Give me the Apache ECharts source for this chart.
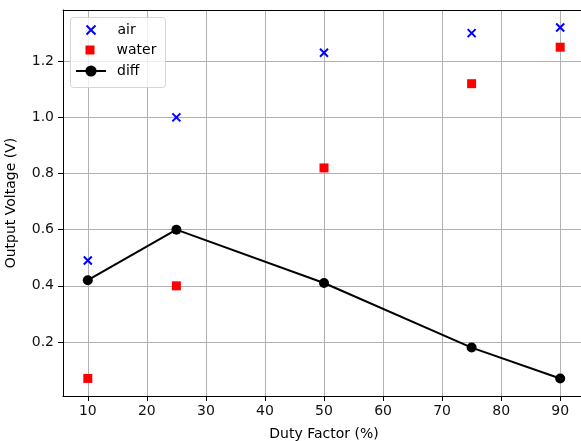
<!DOCTYPE html>
<html>
<head>
<meta charset="utf-8">
<script src="https://cdn.jsdelivr.net/npm/echarts@6/dist/echarts.min.js"></script>
<style>
  html, body { margin: 0; padding: 0; background: #fff; }
  #chart { width: 581px; height: 441px; }
</style>
</head>
<body>
<div id="chart"></div>
<script>
// values
var dutyFactor = [10, 25, 50, 75, 90];
var airVoltage = [0.49, 1.00, 1.23, 1.30, 1.32];
var waterVoltage = [0.07, 0.40, 0.82, 1.12, 1.25];
var diffVoltage = [0.42, 0.60, 0.41, 0.18, 0.07];
var xTicks = [10, 20, 30, 40, 50, 60, 70, 80, 90];
var yTicks = [0.2, 0.4, 0.6, 0.8, 1.0, 1.2];

function pairs(xs, ys) {
    return xs.map(function (x, i) { return [x, ys[i]]; });
}

var font = 'DejaVu Sans';
var crossPath = 'path://M0,0L10,10M10,0L0,10';
var chart = echarts.init(document.getElementById('chart'));

// one legend per entry so each icon can have its own size
function legendItem(name, left, top, w, h, textPad) {
    return {
        orient: 'vertical',
        left: left,
        top: top,
        padding: 0,
        itemWidth: w,
        itemHeight: h,
        textStyle: { fontFamily: font, fontSize: 14, color: '#000', lineHeight: 16, padding: [0, 0, 0, textPad] },
        data: [name],
        z: 5
    };
}

var option = {
    animation: false,
    backgroundColor: '#fff',
    textStyle: { fontFamily: font },
    grid: {
        left: 63,
        top: 10,
        width: 522,
        height: 386,
        outerBoundsMode: 'none',
        containLabel: false
    },
    graphic: [{
        type: 'rect',
        z: 3,
        shape: { x: 70.5, y: 17.5, width: 95, height: 70, r: 3 },
        style: { fill: 'rgba(255,255,255,0.8)', stroke: '#d5d5d5', lineWidth: 1 }
    }],
    legend: [
        legendItem('air', 85.5, 22, 9, 9, 17),
        legendItem('water', 85.5, 42, 9, 9, 17),
        legendItem('diff', 75, 63, 30, 14, 6)
    ],
    xAxis: [{
        type: 'value',
        min: 5.8,
        max: 94.2,
        name: 'Duty Factor (%)',
        nameLocation: 'middle',
        nameGap: 31,
        nameTextStyle: { fontFamily: font, fontSize: 14, color: '#000' },
        axisLine: { show: true, lineStyle: { color: '#000', width: 1 } },
        axisTick: { show: true, inside: false, length: 5, customValues: xTicks, lineStyle: { color: '#000' } },
        axisLabel: { customValues: xTicks, margin: 8, fontFamily: font, fontSize: 14, color: '#111' },
        splitLine: { show: true, lineStyle: { color: '#b0b0b0', width: 1 } }
    }, {
        // top spine only
        type: 'value',
        position: 'top',
        min: 5.8,
        max: 94.2,
        axisLine: { show: true, onZero: false, lineStyle: { color: '#000', width: 1 } },
        axisTick: { show: false },
        axisLabel: { show: false },
        splitLine: { show: false }
    }],
    yAxis: {
        type: 'value',
        min: 0.0075,
        max: 1.3825,
        name: 'Output Voltage (V)',
        nameLocation: 'middle',
        nameGap: 45,
        nameTextStyle: { fontFamily: font, fontSize: 14, color: '#000' },
        axisLine: { show: true, lineStyle: { color: '#000', width: 1 } },
        axisTick: { show: true, inside: false, length: 5, customValues: yTicks, lineStyle: { color: '#000' } },
        axisLabel: {
            customValues: yTicks, margin: 9, fontFamily: font, fontSize: 14, color: '#111',
            formatter: function (v) { return v.toFixed(1); }
        },
        splitLine: { show: true, lineStyle: { color: '#b0b0b0', width: 1 } }
    },
    series: [
        {
            name: 'air',
            type: 'scatter',
            symbol: crossPath,
            symbolSize: 8,
            itemStyle: { color: 'rgba(0,0,0,0)', borderColor: '#0000ff', borderWidth: 2, opacity: 1 },
            data: pairs(dutyFactor, airVoltage),
            z: 3
        },
        {
            name: 'water',
            type: 'scatter',
            symbol: 'rect',
            symbolSize: 9,
            itemStyle: { color: '#ff0000', opacity: 1 },
            data: pairs(dutyFactor, waterVoltage),
            z: 3
        },
        {
            name: 'diff',
            type: 'line',
            symbol: 'circle',
            symbolSize: 10,
            showAllSymbol: true,
            lineStyle: { color: '#000', width: 2 },
            itemStyle: { color: '#000' },
            data: pairs(dutyFactor, diffVoltage),
            z: 4
        }
    ]
};

chart.setOption(option);
</script>
</body>
</html>
